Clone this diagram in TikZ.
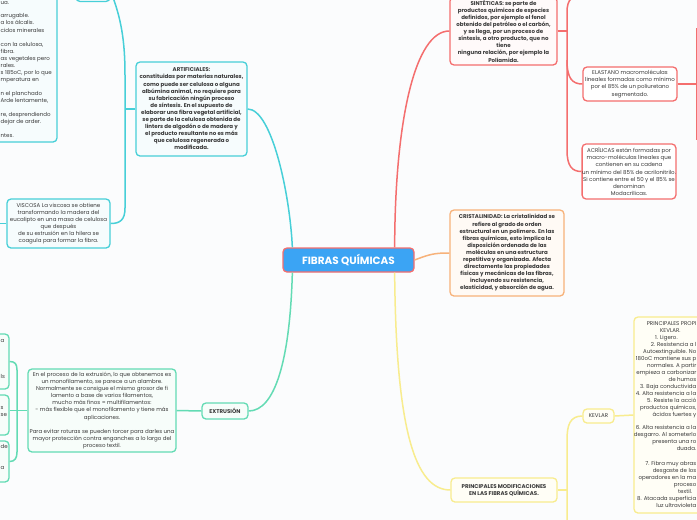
\documentclass[tikz,border=0pt]{standalone}
\usepackage{fontspec}
\setmainfont{Poppins}
\definecolor{bg}{HTML}{FBFCFD}
\definecolor{cTeal}{HTML}{47CFD8}
\definecolor{cTealF}{HTML}{F6FCFD}
\definecolor{cGreen}{HTML}{63DBB4}
\definecolor{cGreenF}{HTML}{F7FDFA}
\definecolor{cRed}{HTML}{F46E6E}
\definecolor{cRedF}{HTML}{FFFAFA}
\definecolor{cOrange}{HTML}{F7B27A}
\definecolor{cOrangeF}{HTML}{FFFAF5}
\definecolor{cYellow}{HTML}{F8EC8E}
\definecolor{cYellowF}{HTML}{FFFEF6}
\definecolor{cBlue}{HTML}{3BA4F4}
\definecolor{cText}{HTML}{3A3A3A}
\begin{document}
\begin{tikzpicture}[x=1pt,y=-1pt,
  box/.style={draw, rounded corners=4pt, line width=1.3pt, inner sep=0pt},
  conn/.style={line width=1.5pt},
  txt/.style={font=\fontsize{5.5}{7.1}\selectfont, align=center, text=cText, inner sep=0pt},
  btxt/.style={font=\fontsize{5.5}{7.1}\selectfont\bfseries, align=center, text=cText, inner sep=0pt},
  ptxt/.style={font=\fontsize{5.5}{7.1}\selectfont, text=cText, inner sep=0pt, text height=4pt, text depth=1.2pt}
]
\useasboundingbox (0,0) rectangle (697,520);
\clip (0,0) rectangle (697,520);
\fill[bg] (0,0) rectangle (697,520);

\node[box, draw=cRed, fill=cBlue, minimum width=131pt, minimum height=24pt,
  font=\fontsize{10.5}{12}\selectfont\bfseries, text=white] (center) at (348.5,260) {FIBRAS QUÍMICAS};

% teal branch
\node[box, draw=cTeal, fill=cTealF, minimum width=111pt, minimum height=94pt, btxt] (art) at (191.5,109)
 {ARTIFICIALES:\\constituidas por materias naturales,\\como puede ser celulosa o alguna\\albúmina animal, no requiere para\\su fabricación ningún proceso\\de síntesis. En el supuesto de\\elaborar una fibra vegetal artificial,\\se parte de la celulosa obtenida de\\linters de algodón o de madera y\\el producto resultante no es más\\que celulosa regenerada o\\modificada.};
\node[box, draw=cTeal, fill=cTealF, minimum width=34pt, minimum height=60pt] (tl) at (93,-28.5) {};
\node[box, draw=cTeal, fill=cTealF, minimum width=137pt, minimum height=202pt] (lbig) at (-11.5,41) {};
\node[box, draw=cTeal, fill=cTealF, minimum width=103pt, minimum height=49pt, txt] (visc) at (58.5,223.5)
 {VISCOSA La viscosa se obtiene\\transformando la madera del\\eucalipto en una masa de celulosa\\que después\\de su extrusión en la hilera se\\coagula para formar la fibra.};
\coordinate (tlc) at (111,-8);
\draw[conn,cTeal] ([xshift=10pt]center.north west) .. controls (290,195) and (272,109) .. (art.east);
\draw[conn,cTeal] (art.west) -- (125,109);
\draw[conn,cTeal] (tlc) .. controls (121,18) and (125,40) .. (125,75) -- (125,208) .. controls (125,220) and (120,223.5) .. (visc.east);
\coordinate (viscL) at (-5,223.5);
\draw[conn,cTeal] (visc.west) -- (viscL);

\foreach \y/\t [count=\i] in {3/ua., 16/arrugable., 23.5/a los álcalis., 31/cidos minerales,
  44.7/{con la celulosa,}, 52/fibra., 59/as vegetales pero, 66/rales., 73/{s 185oC, por lo que},
  80/mperatura en, 94.3/n el planchado, 101/{Arde lentamente,}, 115/{re, desprendiendo},
  122.3/dejar de arder., 136/ntes.}
  \node[ptxt, anchor=west] (lt\i) at (0.5,\y) {\t};

% green branch
\node[box, draw=cGreen, fill=cGreenF, minimum width=46pt, minimum height=16pt, btxt] (extr) at (225,411) {EXTRUSIÓN};
\node[box, draw=cGreen, fill=cGreenF, minimum width=148pt, minimum height=83pt, txt] (extb) at (102,410.5)
 {En el proceso de la extrusión, lo que obtenemos es\\un monofilamento, se parece a un alambre.\\Normalmente se consigue el mismo grosor de fi\\lamento a base de varios filamentos,\\mucho más finos = multifilamentos:\\- más flexible que el monofilamento y tiene más\\aplicaciones.\\[7.1pt]Para evitar roturas se pueden torcer para darles una\\mayor protección contra enganches a lo largo del\\proceso textil.};
\node[box, draw=cGreen, fill=cGreenF, minimum width=78pt, minimum height=55pt] (lb1) at (-30,361.5) {};
\node[box, draw=cGreen, fill=cGreenF, minimum width=78pt, minimum height=40pt] (lb2) at (-30,415) {};
\node[box, draw=cGreen, fill=cGreenF, minimum width=78pt, minimum height=41pt] (lb3) at (-30,461.5) {};
\draw[conn,cGreen] ([xshift=10pt]center.south west) .. controls (290,360) and (275,411) .. (extr.east);
\draw[conn,cGreen] (extr.west) -- (extb.east);
\draw[conn,cGreen] (extb.west) -- (lb2.east |- extb.west);
\draw[conn,cGreen] (lb1.east) .. controls (15,361.5) and (17,364) .. (17,370) -- (17,452) .. controls (17,458) and (15,461.5) .. (lb3.east);
\foreach \y/\t [count=\i] in {341/a, 377/ls, 408/s, 415/se, 447/de, 468/a}
  \node[ptxt, anchor=west] (lbt\i) at (0.5,\y) {\t};

% red branch
\node[box, draw=cRed, fill=cRedF, minimum width=107pt, minimum height=68pt, btxt] (sint) at (503.5,31)
 {SINTÉTICAS: se parte de\\productos químicos de especies\\definidos, por ejemplo el fenol\\obtenido del petróleo o el carbón,\\y se llega, por un proceso de\\síntesis, a otro producto, que no\\tiene\\ninguna relación, por ejemplo la\\Poliamida.};
\node[box, draw=cRed, fill=white, minimum width=94pt, minimum height=34pt, txt] (elas) at (630,84)
 {ELASTANO macromoléculas\\lineales formadas como mínimo\\por el 85\% de un poliuretano\\segmentado.};
\node[box, draw=cRed, fill=white, minimum width=92pt, minimum height=55pt, txt] (acr) at (629,171.5)
 {ACRÍLICAS están formadas por\\macro-moléculas lineales que\\contienen en su cadena\\un mínimo del 85\% de acrilonitrilo.\\Si contiene entre el 50 y el 85\% se\\denominan\\Modacrílicas.};
\coordinate (rtop) at (585,-6);
\coordinate (elasR) at (697,84);
\draw[conn,cRed] ([xshift=-20pt]center.north east) .. controls (395,120) and (415,31) .. (sint.west);
\draw[conn,cRed] (sint.east) -- (567,31);
\draw[conn,cRed] (rtop) .. controls (572,-6) and (567,0) .. (567,12) -- (567,150) .. controls (567,166) and (572,171.5) .. (acr.west);
\draw[conn,cRed] (567,60) .. controls (567,78) and (572,84) .. (elas.west);
\draw[conn,cRed] (elas.east) -- (elasR);
\draw[conn,cRed] (697,28) -- (697,140);

% orange branch
\node[box, draw=cOrange, fill=cOrangeF, minimum width=114pt, minimum height=86pt, btxt] (crist) at (507,253)
 {CRISTALINIDAD: La cristalinidad se\\refiere al grado de orden\\estructural en un polímero. En las\\fibras químicas, esto implica la\\disposición ordenada de las\\moléculas en una estructura\\repetitiva y organizada. Afecta\\directamente las propiedades\\físicas y mecánicas de las fibras,\\incluyendo su resistencia,\\elasticidad, y absorción de agua.};
\draw[conn,cOrange] (center.east) .. controls (430,254) and (435,253) .. (crist.west);

% yellow branch
\node[box, draw=cYellow, fill=cYellowF, minimum width=106pt, minimum height=24pt, btxt] (pmod) at (504,490)
 {PRINCIPALES MODIFICACIONES\\EN LAS FIBRAS QUÍMICAS.};
\node[box, draw=cYellow, fill=cYellowF, minimum width=31pt, minimum height=14pt, txt] (kev) at (598.5,416) {KEVLAR};
\node[box, draw=cYellow, fill=cYellowF, minimum width=126pt, minimum height=196pt] (kbig) at (697,415) {};
\coordinate (ybot) at (567,530);
\draw[conn,cYellow] ([xshift=-20pt]center.south east) .. controls (396,430) and (415,490) .. (pmod.west);
\draw[conn,cYellow] (pmod.east) -- (567,490);
\draw[conn,cYellow] (kev.west) .. controls (570,416) and (567,425) .. (567,440) -- (ybot);
\draw[conn,cYellow] (kev.east) -- (kbig.west);
\foreach \y/\t [count=\i] in {324/PRINCIPALES PROPI, 344.7/2. Resistencia a l,
  351.7/Autoextinguible. No, 358.7/180oC mantiene sus p, 365.7/normales. A partir, 372.7/empieza a carbonizar,
  379.7/de humos, 386.7/3. Baja conductivida, 393.7/4. Alta resistencia a la, 400.7/5. Resiste la acció,
  407.7/{productos químicos,}, 414.7/ácidos fuertes y, 428.3/6. Alta resistencia a la, 435.3/desgarro. Al someterlo,
  442.3/presenta una ro, 449.3/duada., 464/7. Fibra muy abras, 471/desgaste de los, 477.7/operadores en la ma,
  485/proceso, 498.7/8. Atacada superficia, 505.7/luz ultravioleta}
  \node[ptxt, anchor=east] (kt\i) at (696.5,\y) {\t};
\foreach \x/\y/\t [count=\i] in {660/331/KEVLAR., 655/338/1. Ligero., 678/492/textil.}
  \node[ptxt, anchor=west] (kw\i) at (\x,\y) {\t};
\end{tikzpicture}
\end{document}
